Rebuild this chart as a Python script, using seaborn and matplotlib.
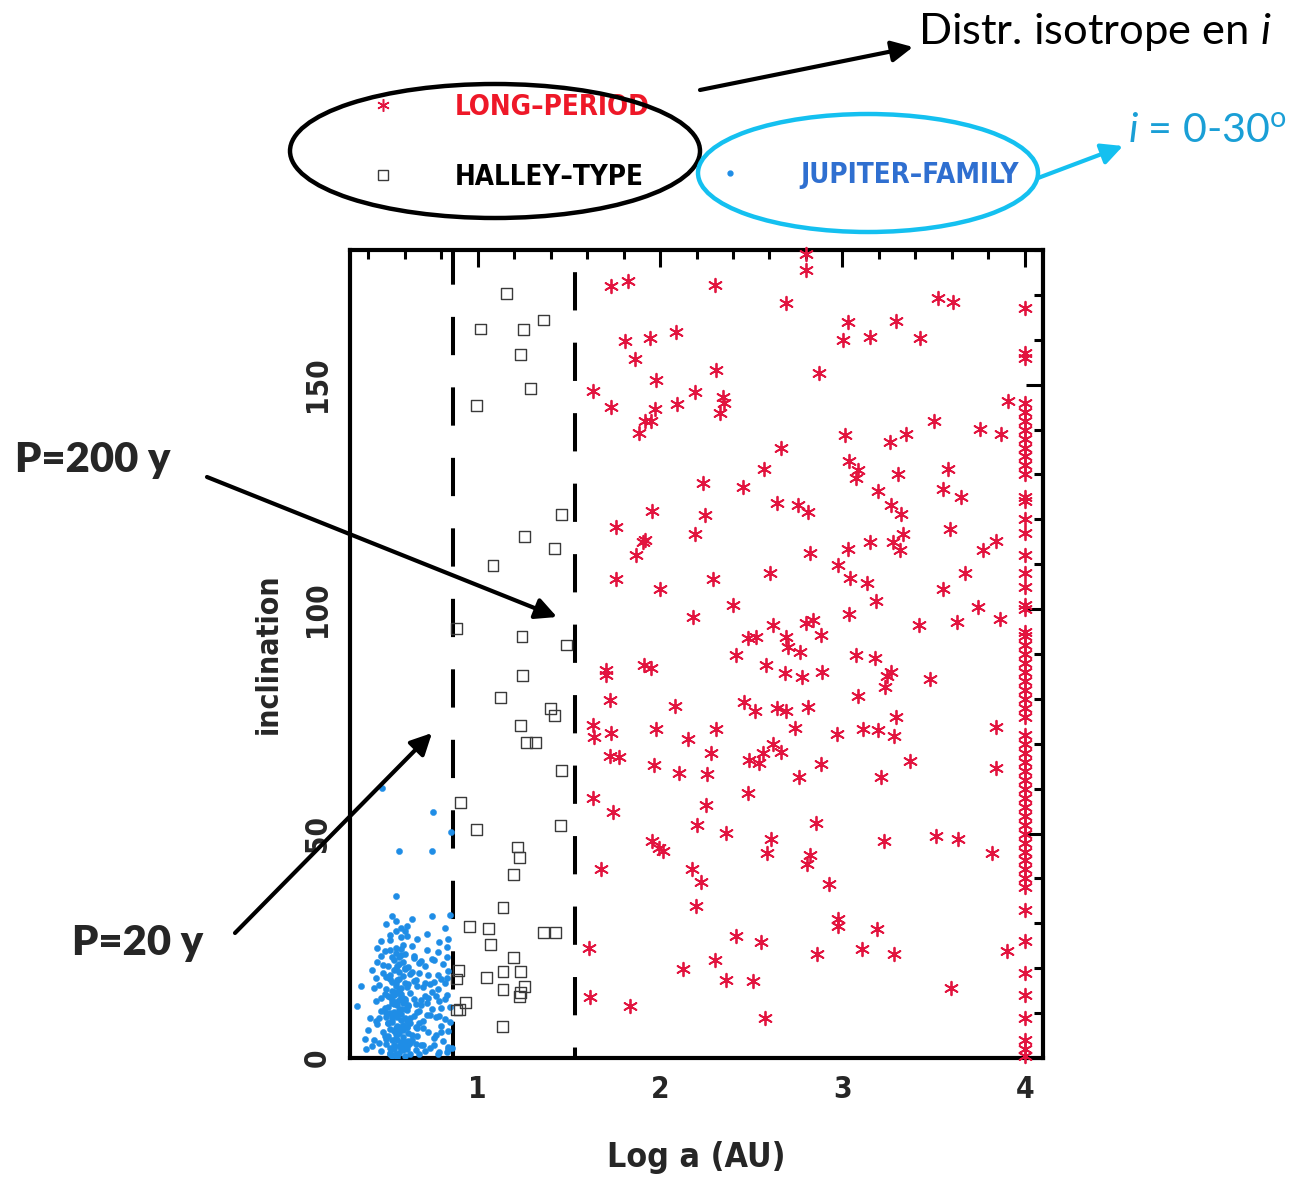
import numpy as np
import pandas as pd
import matplotlib
matplotlib.use("Agg")
import matplotlib.pyplot as plt
import seaborn as sns
from matplotlib.patches import Ellipse
from matplotlib.lines import Line2D
from matplotlib.ticker import FixedLocator, MultipleLocator
from matplotlib import font_manager
from matplotlib.font_manager import FontProperties

# ------------------------------------------------------------------ data
# Jupiter-family comets (log a, inclination)
jfc_loga = [0.42, 0.47, 0.50, 0.52, 0.54, 0.55, 0.57, 0.58, 0.60, 0.62, 0.64, 0.66, 0.70, 0.74, 0.78, 0.81, 0.84,
            0.49, 0.53, 0.56, 0.59, 0.61, 0.63, 0.68, 0.76, 0.83,
            0.45, 0.48, 0.50, 0.52, 0.53, 0.55, 0.56, 0.57, 0.59, 0.60, 0.62, 0.63, 0.65, 0.67, 0.70, 0.73, 0.77,
            0.80, 0.84, 0.51, 0.54, 0.58, 0.61, 0.64, 0.72, 0.82,
            0.34, 0.44, 0.47, 0.49, 0.51, 0.52, 0.54, 0.55, 0.57, 0.58, 0.60, 0.61, 0.63, 0.66, 0.69, 0.71, 0.75,
            0.79, 0.83, 0.85, 0.50, 0.53, 0.56, 0.59, 0.62, 0.68, 0.77,
            0.46, 0.48, 0.50, 0.52, 0.54, 0.55, 0.57, 0.59, 0.60, 0.62, 0.65, 0.68, 0.70, 0.73, 0.76, 0.80, 0.84,
            0.51, 0.56, 0.58, 0.63, 0.67, 0.78,
            0.45, 0.49, 0.51, 0.53, 0.55, 0.57, 0.60, 0.62, 0.65, 0.69, 0.72, 0.75, 0.78, 0.81, 0.83, 0.52, 0.58,
            0.71, 0.76,
            0.47, 0.50, 0.52, 0.55, 0.58, 0.60, 0.64, 0.67, 0.72, 0.79, 0.82, 0.84, 0.53, 0.61, 0.85,
            0.478, 0.753, 0.852, 0.566, 0.747, 0.55, 0.747,
            0.52, 0.54, 0.55, 0.56, 0.57, 0.58, 0.53, 0.55, 0.57, 0.59, 0.54, 0.56, 0.58, 0.60, 0.51, 0.53, 0.55,
            0.57, 0.59, 0.61, 0.54, 0.56, 0.58, 0.52, 0.55, 0.57, 0.60, 0.53, 0.56, 0.59,
            0.40, 0.43, 0.44, 0.46, 0.47, 0.66, 0.69, 0.71, 0.74, 0.77, 0.80, 0.82, 0.85, 0.86, 0.42, 0.45, 0.68,
            0.73, 0.79, 0.83,
            0.50, 0.51, 0.52, 0.53, 0.54, 0.55, 0.56, 0.57, 0.58, 0.59, 0.60, 0.61, 0.62, 0.63, 0.64, 0.65, 0.66,
            0.67, 0.68, 0.69,
            0.50, 0.52, 0.54, 0.56, 0.58, 0.60, 0.62, 0.64, 0.66, 0.70, 0.72, 0.74, 0.76, 0.78, 0.80, 0.82, 0.84,
            0.48, 0.46, 0.44,
            0.51, 0.53, 0.55, 0.57, 0.59, 0.61, 0.63, 0.65, 0.67, 0.71, 0.75, 0.79, 0.83, 0.49, 0.47, 0.43, 0.41,
            0.38, 0.36, 0.39,
            0.52, 0.54, 0.56, 0.58, 0.60, 0.55, 0.57, 0.53, 0.59, 0.61]
jfc_incl = [2.7, 1.5, 3.2, 0.8, 2.1, 4.4, 1.2, 3.6, 0.5, 2.8, 4.1, 1.7, 3.0, 2.2, 1.0, 3.8, 2.5,
            4.8, 4.0, 0.3, 2.4, 1.9, 3.4, 0.9, 4.5, 1.4,
            7.5, 5.8, 9.2, 6.4, 8.1, 5.3, 9.7, 7.0, 6.2, 8.8, 5.5, 7.9, 9.4, 6.7, 8.3, 5.9, 9.1,
            7.2, 6.0, 7.7, 9.9, 8.5, 6.9, 5.1, 9.6, 8.7,
            11.6, 12.8, 10.5, 14.2, 11.3, 13.6, 10.2, 12.4, 14.8, 11.0, 13.1, 10.7, 14.5, 12.1, 11.8, 13.9, 10.9,
            12.6, 14.0, 11.4, 10.1, 12.2, 14.4, 13.3, 11.7, 10.4, 13.8,
            16.2, 18.9, 15.4, 17.7, 19.5, 16.8, 15.1, 18.3, 19.8, 16.5, 17.2, 19.0, 15.8, 18.6, 16.9, 17.5, 19.3,
            18.1, 17.4, 15.6, 18.8, 16.0, 15.3,
            21.3, 23.8, 20.6, 22.4, 24.5, 21.0, 23.1, 20.2, 22.8, 21.7, 24.1, 22.0, 23.6, 20.9, 24.8, 24.0, 22.9,
            20.4, 21.8,
            26.1, 29.8, 27.4, 30.6, 26.9, 28.2, 31.0, 26.4, 27.7, 25.8, 28.9, 26.6, 31.6, 29.4, 31.9,
            60.2, 54.7, 50.4, 46.2, 46.2, 36.2, 31.6,
            1.1, 3.0, 6.6, 11.9, 2.6, 13.7, 8.6, 16.1, 19.2, 4.7, 21.9, 9.1, 24.2, 12.7, 5.0, 17.0, 0.9,
            10.6, 7.4, 15.9, 14.1, 20.5, 2.0, 18.4, 23.3, 5.6, 10.9, 13.0, 6.1, 21.4,
            6.3, 3.9, 17.9, 9.0, 13.3, 3.2, 12.9, 1.6, 16.4, 5.2, 11.1, 16.8, 8.0, 2.2, 19.7, 24.6, 7.8,
            13.4, 1.3, 22.6,
            4.2, 7.9, 2.3, 15.0, 12.0, 0.6, 5.4, 22.5, 9.8, 1.8, 16.7, 27.1, 3.7, 8.9, 19.1, 13.2, 6.8,
            10.3, 21.1, 2.9,
            18.0, 26.3, 14.6, 7.1, 29.0, 3.5, 11.5, 24.9, 17.3, 6.6, 12.3, 9.5, 2.8, 18.5, 5.7, 13.1, 1.9,
            20.8, 3.3, 8.3,
            13.9, 0.4, 19.9, 12.9, 25.2, 8.2, 1.0, 22.2, 4.9, 16.6, 14.7, 9.3, 17.8, 11.2, 22.8, 15.5, 8.9,
            4.3, 16.0, 1.9,
            10.0, 6.0, 3.9, 14.3, 20.1, 28.4, 17.6, 9.4, 12.2, 6.9]

# Halley-type comets
htc_loga = [1.157, 1.015, 1.252, 1.362, 1.236, 1.292, 0.993, 1.459, 1.258, 1.422, 1.084, 0.886, 1.243, 1.487,
            1.245, 1.124, 1.399, 1.422, 1.234, 1.270, 1.318, 1.459, 0.905, 0.993, 1.454, 1.216, 1.227, 1.194,
            1.139, 0.956, 1.062, 1.362, 1.428, 1.070, 1.197, 0.897, 0.883, 1.051, 1.139, 1.234, 1.258, 1.139,
            1.236, 1.232, 0.934, 0.901, 0.886, 1.135]
htc_incl = [170.4, 162.4, 162.2, 164.4, 156.8, 149.2, 145.4, 121.0, 116.1, 113.5, 109.8, 95.7, 94.0, 92.0,
            85.3, 80.3, 77.9, 76.3, 74.0, 70.3, 70.2, 64.1, 57.0, 50.9, 51.8, 47.0, 44.6, 40.8,
            33.5, 29.2, 28.8, 27.9, 27.9, 25.2, 22.4, 19.4, 17.6, 17.9, 19.2, 19.2, 15.9, 15.2,
            14.6, 13.8, 12.4, 10.9, 10.7, 7.0]

# Long-period comets
lpc_loga = [1.733, 1.825, 1.806, 1.943, 2.090, 1.861, 1.980, 1.633, 2.190, 1.733, 1.971, 2.093, 1.916, 1.953,
            1.885, 1.958, 1.757, 2.190, 1.916, 1.907, 1.870, 1.757, 1.998, 2.181,
            2.300, 2.803, 2.803, 2.693, 2.306, 2.346, 2.350, 2.331, 2.872, 2.666, 2.569, 2.236, 2.455, 2.639,
            2.757, 2.812, 2.245, 2.825, 2.291, 2.602, 2.400, 2.617, 2.803, 2.838, 2.483, 2.529, 2.693, 2.702,
            2.766, 2.418,
            3.522, 3.604, 3.031, 3.293, 3.004, 3.150, 3.428, 3.909, 3.503, 3.013, 3.260, 3.348, 3.757, 3.867,
            3.037, 3.086, 3.077, 3.306, 3.580, 3.196, 3.549, 3.648, 3.269, 3.324, 3.589, 3.333, 3.154, 3.275,
            3.031, 3.318, 3.772, 3.845, 2.976, 3.044, 3.136, 3.671, 3.549, 3.183, 3.744, 3.037, 3.863, 3.421,
            3.629, 2.880, 3.074, 3.178,
            1.702, 1.706, 1.911, 1.953, 2.580, 2.684, 2.776, 1.728, 2.081, 2.459, 2.519, 2.642, 2.690, 2.812,
            1.633, 1.637, 1.733, 1.976, 2.309, 2.154, 2.739, 2.282, 1.728, 1.775, 1.965, 2.104, 2.258, 2.488,
            2.543, 2.562, 2.617, 2.666, 2.762, 1.633, 1.742, 2.483, 2.251, 2.203, 2.360, 1.958, 1.995, 2.017,
            2.611, 2.587, 2.821, 2.806, 1.679, 2.178, 2.227, 2.196, 2.858, 2.418, 2.555, 1.611, 2.861, 2.300,
            2.125, 2.364, 2.510, 1.614, 1.834, 2.574,
            3.245, 3.269, 2.890, 3.479, 3.233, 3.086, 3.293, 2.968, 3.114, 3.196, 3.282, 3.841, 2.885, 3.370,
            3.214, 3.845, 3.227, 3.516, 3.635, 3.823, 2.927, 2.976, 2.976, 3.190, 3.105, 3.282, 3.900, 3.593]
lpc_incl = [172.0, 173.1, 159.8, 160.5, 161.8, 155.7, 151.0, 148.5, 148.3, 145.1, 144.6, 145.7, 142.0, 141.8,
            139.2, 121.8, 118.3, 116.8, 115.5, 115.0, 112.0, 106.8, 104.4, 98.3,
            172.2, 175.5, 179.0, 168.1, 153.3, 147.2, 146.0, 143.7, 152.5, 135.9, 131.3, 128.2, 127.3, 123.6,
            123.1, 121.6, 120.9, 112.5, 106.8, 108.1, 101.0, 96.4, 96.8, 97.6, 93.5, 93.8, 93.8, 91.6,
            90.5, 89.8,
            169.4, 168.5, 164.0, 164.2, 159.9, 160.7, 160.5, 146.4, 141.8, 138.7, 137.3, 138.9, 140.2, 138.9,
            133.0, 131.0, 129.3, 130.2, 131.3, 126.3, 126.8, 125.0, 123.1, 121.1, 117.9, 116.7, 115.0, 115.0,
            113.5, 113.1, 113.1, 115.2, 109.8, 107.0, 105.8, 108.1, 104.4, 101.8, 100.4, 98.9, 97.7, 96.4,
            97.2, 94.2, 89.8, 89.0,
            86.4, 85.3, 87.6, 86.8, 87.6, 85.7, 84.8, 79.8, 78.4, 79.4, 77.4, 77.9, 77.2, 78.2,
            74.2, 71.6, 72.4, 73.3, 73.3, 71.0, 73.5, 67.9, 67.2, 67.0, 65.3, 63.5, 63.3, 66.3,
            65.8, 67.9, 70.0, 68.1, 62.7, 57.9, 54.7, 59.0, 56.4, 51.8, 50.2, 48.3, 46.8, 46.1,
            48.7, 45.6, 45.3, 43.3, 42.2, 42.0, 39.2, 33.8, 52.4, 27.2, 25.9, 24.4, 23.1, 21.8,
            19.8, 17.4, 17.2, 13.7, 11.5, 8.8,
            85.1, 85.9, 86.1, 84.4, 82.6, 80.7, 75.9, 72.2, 73.3, 73.0, 71.8, 73.8, 65.6, 66.1,
            62.6, 64.6, 48.3, 49.4, 48.7, 45.6, 38.7, 30.9, 29.4, 28.7, 24.2, 23.1, 23.8, 15.7]

# long-period comets piled up at the log a = 4 edge
lpc_edge_loga = 4.0
lpc_edge_incl = [0.5, 2, 4, 9, 14, 19, 26, 33, 38, 40, 42, 44, 46, 48, 50, 52, 54, 56, 58, 60, 62, 64, 66,
                 68, 70, 72, 76, 78, 80, 82, 84, 86, 88, 90, 92, 94, 95, 100, 101, 105, 108, 112, 117, 120,
                 124, 125, 130, 132, 134, 136, 138, 140, 142, 144, 146, 156, 157, 167]

# orbital-period boundaries (log a for P = 20 y and P = 200 y)
boundary_loga = [0.866, 1.534]
boundary_labels = ["P=20 y", "P=200 y"]

x_major = [1, 2, 3, 4]
y_major = [0, 50, 100, 150]
series_names = ["LONG\u2013PERIOD", "HALLEY\u2013TYPE", "JUPITER\u2013FAMILY"]
x_title = "Log a (AU)"
y_title = "inclination"

# ------------------------------------------------------------------ fonts
sns.set_theme(style="white")
ttf = font_manager.fontManager.ttflist
avail = {f.name for f in ttf}
COND_STRETCH = ("condensed", "semi-condensed", "extra-condensed", "ultra-condensed")
cond = None
for pref in ["Liberation Sans Narrow", "DejaVu Sans", "Noto Sans", "Roboto", "Open Sans", "Inter"]:
    for f in ttf:
        if f.name == pref and (f.stretch in COND_STRETCH or "Narrow" in f.name):
            cond = (f.name, f.stretch if f.stretch in COND_STRETCH else "normal")
            break
    if cond:
        break
if cond is None:
    cond = ("Liberation Sans" if "Liberation Sans" in avail else "DejaVu Sans", "normal")
PLOTFAM, PLOTSTRETCH = cond
SLIDE = "Lato" if "Lato" in avail else "DejaVu Sans"

plt.rcParams["font.family"] = [PLOTFAM, "DejaVu Sans"]
plt.rcParams["mathtext.fontset"] = "custom"
plt.rcParams["mathtext.rm"] = SLIDE
plt.rcParams["mathtext.it"] = SLIDE + ":italic"

RED = "#e2143f"
BLUE = "#1f8de6"
SQ = "#3a3a3a"
CYAN = "#14c0f0"
TEAL = "#1a9fd6"
ASTER = (6, 2, 0)

W, H = 1296, 1179
fig = plt.figure(figsize=(W / 100, H / 100), dpi=100)
fig.patch.set_facecolor("white")
renderer = fig.canvas.get_renderer()


def plot_fp(size, weight="bold"):
    return FontProperties(family=[PLOTFAM, "DejaVu Sans"], weight=weight, stretch=PLOTSTRETCH, size=size)


def fit_size(s, target_px, base=20.0):
    w, h, d = renderer.get_text_width_height_descent(s, plot_fp(base), ismath=False)
    return base * target_px / w


tick_fs = min(fit_size("150", 56), 34)
xlab_fs = fit_size(x_title, 178)
ylab_fs = fit_size(y_title, 162)
leg_fs = fit_size(series_names[0], 195)

ax = fig.add_axes([350 / W, 1 - 1058 / H, 693 / W, 808 / H])

jfc = pd.DataFrame({"loga": jfc_loga, "incl": jfc_incl})
htc = pd.DataFrame({"loga": htc_loga, "incl": htc_incl})
lpc = pd.DataFrame({"loga": lpc_loga + [lpc_edge_loga] * len(lpc_edge_incl),
                    "incl": lpc_incl + lpc_edge_incl})

sns.scatterplot(data=jfc, x="loga", y="incl", ax=ax, marker="o", s=20, color=BLUE,
                edgecolor=BLUE, linewidth=0.3, zorder=3, legend=False)
sns.scatterplot(data=htc, x="loga", y="incl", ax=ax, marker="s", s=62, facecolor="none",
                edgecolor=SQ, linewidth=1.0, zorder=4, legend=False)
sns.scatterplot(data=lpc, x="loga", y="incl", ax=ax, marker=ASTER, s=95, color=RED,
                edgecolor=RED, linewidth=1.3, zorder=4, legend=False, clip_on=False)

for xb, off in zip(boundary_loga, [0.5, 6.9]):
    ax.axvline(xb, color="black", lw=2.9, linestyle=(off, (9.5, 8.0)), zorder=2)

ax.set_xlim(0.3, 4.1)
ax.set_ylim(0, 180)
ax.xaxis.set_major_locator(FixedLocator(x_major))
ax.xaxis.set_minor_locator(MultipleLocator(0.2))
ax.yaxis.set_major_locator(FixedLocator(y_major))
ax.yaxis.set_minor_locator(MultipleLocator(10))
ax.set_xticklabels([str(v) for v in x_major], fontproperties=plot_fp(tick_fs))
ax.set_yticklabels([str(v) for v in y_major], fontproperties=plot_fp(tick_fs), rotation=90, va="center")
ax.tick_params(which="both", direction="in", top=True, right=True, width=2.2, color="black")
ax.tick_params(which="major", length=12)
ax.tick_params(which="minor", length=6.5)
ax.tick_params(axis="x", which="major", pad=12)
ax.tick_params(axis="y", which="major", pad=13)
for sp in ax.spines.values():
    sp.set_linewidth(3)
    sp.set_color("black")

ax.set_xlabel(x_title, fontproperties=plot_fp(xlab_fs))
ax.set_ylabel(y_title, fontproperties=plot_fp(ylab_fs))
ax.xaxis.set_label_coords(0.5, (1058 - 1158) / 808)
ax.xaxis.label.set_va("center")
ax.yaxis.set_label_coords((268 - 350) / 693, 0.5)
ax.yaxis.label.set_va("center")
ax.yaxis.label.set_ha("center")

# ------------------------------------------------------------------ legends
fs_px = leg_fs * 100 / 72
h_lpc = Line2D([], [], ls="none", marker=ASTER, ms=9, mew=1.1, color=RED)
h_htc = Line2D([], [], ls="none", marker="s", ms=7, mew=1.0, mfc="none", mec=SQ)
h_jfc = Line2D([], [], ls="none", marker="o", ms=3.5, color=BLUE)
leg_kw = dict(frameon=False, handlelength=1.0, borderpad=0, borderaxespad=0,
              prop=plot_fp(leg_fs), loc="upper left")
x1 = 383 - fs_px / 2
leg1 = fig.legend([h_lpc, h_htc], series_names[:2],
                  bbox_to_anchor=(x1 / W, 1 - (110 - 0.62 * fs_px) / H),
                  handletextpad=(455 - x1 - fs_px) / fs_px,
                  labelspacing=(75 - 1.2 * fs_px) / fs_px,
                  labelcolor=["#ee1828", "black"], **leg_kw)
x2 = 730 - fs_px / 2
leg2 = fig.legend([h_jfc], series_names[2:],
                  bbox_to_anchor=(x2 / W, 1 - (178 - 0.62 * fs_px) / H),
                  handletextpad=(800 - x2 - fs_px) / fs_px,
                  labelcolor=["#2f6fd0"], **leg_kw)

# ------------------------------------------------------------------ slide annotations (pixel space)
ov = fig.add_axes([0, 0, 1, 1], zorder=10)
ov.set_xlim(0, W)
ov.set_ylim(H, 0)
ov.axis("off")

ov.add_patch(Ellipse((495, 151), 410, 134, fill=False, ec="black", lw=3.2))
ov.add_patch(Ellipse((868, 173), 340, 118, fill=False, ec=CYAN, lw=3.2))

arr = dict(arrowstyle="-|>", lw=3, mutation_scale=32, shrinkA=0, shrinkB=0)
ov.annotate("", xy=(913, 47), xytext=(700, 90), arrowprops=dict(color="black", **arr))
ov.annotate("", xy=(1123, 146), xytext=(1038, 178), arrowprops=dict(color=CYAN, **arr))
ov.annotate("", xy=(557, 617), xytext=(207, 477), arrowprops=dict(color="black", **arr))
ov.annotate("", xy=(432, 733), xytext=(235, 933), arrowprops=dict(color="black", **arr))

slide_fp = FontProperties(family=SLIDE, stretch="normal", size=31.3)
ov.text(918, 32, r"Distr. isotrope en $i$", fontproperties=slide_fp, color="black",
        ha="left", va="center")
ov.text(1128, 131, r"$i$ = 0-30$^{\mathrm{o}}$",
        fontproperties=FontProperties(family=SLIDE, stretch="normal", size=29.6), color=TEAL,
        ha="left", va="center")
bold_fp = FontProperties(family=SLIDE, stretch="normal", weight="heavy", size=30)
ov.text(15, 460, boundary_labels[1], fontproperties=bold_fp, ha="left", va="center")
ov.text(72, 943, boundary_labels[0], fontproperties=bold_fp, ha="left", va="center")

fig.savefig("out.png", dpi=100, facecolor="white")
